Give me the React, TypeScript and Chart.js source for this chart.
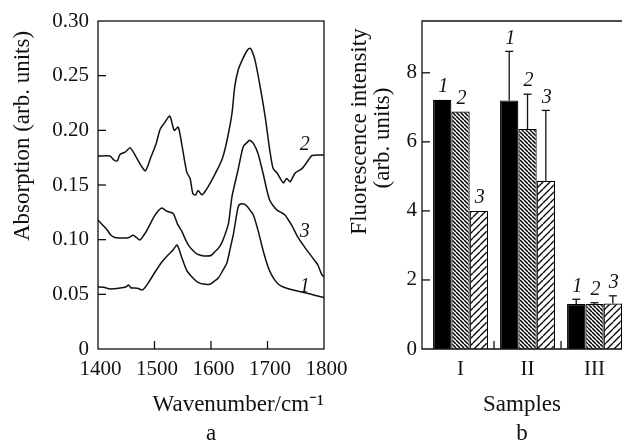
import React, { useEffect, useRef } from 'react';
import { Chart, registerables } from 'chart.js';

Chart.register(...registerables);

const FONT = '"Liberation Serif", "Times New Roman", serif';
const INK = '#111';

// ---------- Panel a: absorption spectra ----------
const wnTicks = [1400, 1500, 1600, 1700, 1800];
const absTicks = [0, 0.05, 0.1, 0.15, 0.2, 0.25, 0.3];

const curve1Wn = [1400, 1410, 1421, 1439, 1450, 1454, 1458, 1463, 1470, 1478, 1483, 1489, 1501, 1513, 1524, 1532, 1540, 1548, 1557, 1568, 1577, 1586, 1598, 1606, 1613, 1620, 1628, 1634, 1640, 1648, 1652, 1658, 1663, 1669, 1675, 1683, 1692, 1701, 1707, 1713, 1720, 1728, 1745, 1770, 1785, 1800];
const curve1Abs = [0.0567, 0.0565, 0.055, 0.0558, 0.057, 0.0585, 0.056, 0.0558, 0.0555, 0.054, 0.056, 0.0604, 0.0704, 0.0796, 0.086, 0.09, 0.0951, 0.084, 0.072, 0.065, 0.061, 0.0594, 0.0592, 0.062, 0.065, 0.071, 0.0786, 0.092, 0.106, 0.13, 0.1326, 0.1326, 0.131, 0.127, 0.1226, 0.109, 0.0906, 0.075, 0.068, 0.063, 0.059, 0.0567, 0.054, 0.051, 0.049, 0.047];

const curve2Wn = [1400, 1421, 1428, 1434, 1439, 1448, 1457, 1467, 1476, 1484, 1494, 1503, 1510, 1518, 1527, 1535, 1542, 1549, 1557, 1563, 1568, 1573, 1577, 1584, 1592, 1600, 1612, 1620, 1628, 1637, 1642, 1648, 1655, 1664, 1669, 1673, 1678, 1687, 1696, 1704, 1710, 1717, 1728, 1734, 1740, 1749, 1761, 1770, 1779, 1800];
const curve2Abs = [0.1765, 0.1765, 0.173, 0.172, 0.178, 0.18, 0.184, 0.176, 0.168, 0.163, 0.176, 0.188, 0.201, 0.207, 0.213, 0.2, 0.203, 0.185, 0.162, 0.156, 0.142, 0.141, 0.145, 0.141, 0.146, 0.153, 0.165, 0.174, 0.19, 0.215, 0.24, 0.255, 0.264, 0.273, 0.275, 0.272, 0.264, 0.24, 0.212, 0.182, 0.165, 0.161, 0.152, 0.156, 0.153, 0.161, 0.165, 0.171, 0.177, 0.1775];

const curve3Wn = [1400, 1409, 1416, 1423, 1430, 1445, 1455, 1462, 1468, 1474, 1481, 1487, 1498, 1506, 1513, 1522, 1533, 1541, 1548, 1555, 1560, 1568, 1575, 1583, 1592, 1600, 1607, 1613, 1619, 1625, 1631, 1637, 1643, 1648, 1657, 1664, 1668, 1675, 1683, 1692, 1699, 1704, 1710, 1717, 1724, 1731, 1737, 1743, 1754, 1766, 1779, 1789, 1796, 1800];
const curve3Abs = [0.118, 0.113, 0.109, 0.104, 0.102, 0.1015, 0.102, 0.104, 0.102, 0.0997, 0.104, 0.109, 0.12, 0.126, 0.129, 0.126, 0.124, 0.114, 0.108, 0.1, 0.095, 0.09, 0.087, 0.0855, 0.085, 0.0855, 0.089, 0.092, 0.097, 0.105, 0.115, 0.139, 0.153, 0.164, 0.185, 0.189, 0.191, 0.188, 0.179, 0.161, 0.145, 0.136, 0.131, 0.127, 0.125, 0.1226, 0.118, 0.113, 0.102, 0.093, 0.084, 0.077, 0.068, 0.066];

const curveNames = ['1', '2', '3'];
const curveLabelWn = [1766, 1766, 1766];
const curveLabelAbs = [0.0572, 0.1866, 0.1075];

// ---------- Panel b: fluorescence bars ----------
const samples = ['I', 'II', 'III'];
const seriesNames = ['1', '2', '3'];
const series1 = [7.22, 7.2, 1.3];
const series2 = [6.88, 6.37, 1.3];
const series3 = [4.0, 4.87, 1.32];
const err1 = [0, 1.42, 0.14];
const err2 = [0, 1.01, 0.04];
const err3 = [0, 2.04, 0.22];
const fluoTicks = [0, 2, 4, 6, 8];

const tickFont = { family: FONT, size: 21, weight: 'normal' as const };
const titleFont = { family: FONT, size: 23, weight: 'normal' as const };
const italicFont = `italic 20px ${FONT}`;

function makeHatch(period: number, dir: 1 | -1, lw: number): CanvasPattern | string {
  const c = document.createElement('canvas');
  c.width = period;
  c.height = period;
  const g = c.getContext('2d');
  if (!g) return '#888';
  g.fillStyle = '#fff';
  g.fillRect(0, 0, period, period);
  g.strokeStyle = '#000';
  g.lineWidth = lw;
  g.beginPath();
  for (let k = -1; k <= 1; k++) {
    if (dir === 1) {
      g.moveTo(k * period, period);
      g.lineTo(k * period + period, 0);
    } else {
      g.moveTo(k * period, 0);
      g.lineTo(k * period + period, period);
    }
  }
  g.stroke();
  return g.createPattern(c, 'repeat') || '#888';
}

function vText(ctx: CanvasRenderingContext2D, text: string, x: number, y: number) {
  ctx.save();
  ctx.translate(x, y);
  ctx.rotate(-Math.PI / 2);
  ctx.textAlign = 'center';
  ctx.textBaseline = 'middle';
  ctx.font = `normal 23px ${FONT}`;
  ctx.fillStyle = INK;
  ctx.fillText(text, 0, 0);
  ctx.restore();
}

function line(ctx: CanvasRenderingContext2D, x1: number, y1: number, x2: number, y2: number) {
  ctx.beginPath();
  ctx.moveTo(x1, y1);
  ctx.lineTo(x2, y2);
  ctx.stroke();
}

const TICK_LEN = 8;

const spectraDeco = {
  id: 'spectraDeco',
  afterDraw(chart: any) {
    const { ctx, chartArea: a, scales } = chart;
    const xs = scales.x;
    const ys = scales.y;
    ctx.save();
    ctx.strokeStyle = INK;
    ctx.lineWidth = 1.3;
    ctx.strokeRect(a.left, a.top, a.right - a.left, a.bottom - a.top);
    wnTicks.slice(1, -1).forEach((v) => {
      const px = xs.getPixelForValue(v);
      line(ctx, px, a.bottom, px, a.bottom - TICK_LEN);
    });
    absTicks.slice(1, -1).forEach((v) => {
      const py = ys.getPixelForValue(v);
      line(ctx, a.left, py, a.left + TICK_LEN, py);
    });
    ctx.font = italicFont;
    ctx.fillStyle = INK;
    ctx.textAlign = 'center';
    ctx.textBaseline = 'middle';
    curveNames.forEach((n, i) => {
      ctx.fillText(n, xs.getPixelForValue(curveLabelWn[i]), ys.getPixelForValue(curveLabelAbs[i]));
    });
    vText(ctx, 'Absorption (arb. units)', a.left - 75.5, a.top + 115);
    ctx.restore();
  },
};

const barDeco = {
  id: 'barDeco',
  afterDraw(chart: any) {
    const { ctx, chartArea: a, scales } = chart;
    const xs = scales.x;
    const ys = scales.y;
    ctx.save();
    ctx.strokeStyle = INK;
    ctx.lineWidth = 1.3;
    ctx.beginPath();
    ctx.moveTo(a.right + 2, a.top);
    ctx.lineTo(a.left, a.top);
    ctx.lineTo(a.left, a.bottom);
    ctx.lineTo(a.right + 2, a.bottom);
    ctx.stroke();
    fluoTicks.slice(1).forEach((v) => {
      const py = ys.getPixelForValue(v);
      line(ctx, a.left, py, a.left + TICK_LEN, py);
    });
    for (let i = 0; i < samples.length - 1; i++) {
      const px = xs.getPixelForValue(i + 1.5);
      line(ctx, px, a.bottom, px, a.bottom - TICK_LEN);
    }
    const vals = [series1, series2, series3];
    const errs = [err1, err2, err3];
    ctx.font = italicFont;
    ctx.fillStyle = INK;
    ctx.textAlign = 'center';
    ctx.textBaseline = 'middle';
    vals.forEach((vs, d) => {
      const meta = chart.getDatasetMeta(d);
      vs.forEach((v, i) => {
        const bar = meta.data[i];
        const x = bar.x;
        const yTop = ys.getPixelForValue(v + errs[d][i]);
        if (errs[d][i] > 0) {
          ctx.lineWidth = 1.3;
          line(ctx, x, ys.getPixelForValue(v), x, yTop);
          line(ctx, x - 4, yTop, x + 4, yTop);
        }
        ctx.fillText(seriesNames[d], x + 1, yTop - 13);
      });
    });
    vText(ctx, 'Fluorescence intensity', a.left - 62, a.top + 110.5);
    vText(ctx, '(arb. units)', a.left - 39.5, a.top + 117);
    ctx.restore();
  },
};

function spectraConfig(): any {
  const mk = (wn: number[], ab: number[]) => wn.map((w, i) => ({ x: w, y: ab[i] }));
  const ds = (label: string, wn: number[], ab: number[]) => ({
    label,
    data: mk(wn, ab),
    borderColor: INK,
    borderWidth: 1.5,
    pointRadius: 0,
    tension: 0.25,
    fill: false,
  });
  return {
    type: 'line',
    data: {
      datasets: [
        ds('1', curve1Wn, curve1Abs),
        ds('2', curve2Wn, curve2Abs),
        ds('3', curve3Wn, curve3Abs),
      ],
    },
    options: {
      animation: false,
      responsive: false,
      devicePixelRatio: 1,
      events: [],
      layout: { padding: { left: 0, top: 21, right: 26, bottom: 0 } },
      plugins: {
        legend: { display: false },
        tooltip: { enabled: false },
        title: {
          display: true,
          text: 'a',
          position: 'bottom',
          fullSize: false,
          color: INK,
          font: { ...titleFont, lineHeight: 1.1 },
          padding: 0,
        },
      },
      scales: {
        x: {
          type: 'linear',
          min: 1400,
          max: 1800,
          offset: false,
          grid: { display: false, drawTicks: false },
          border: { display: false },
          ticks: {
            color: INK,
            font: tickFont,
            padding: 7.4,
            labelOffset: 2.5,
            maxRotation: 0,
            autoSkip: false,
            callback: (v: any) => String(v),
          },
          afterBuildTicks: (s: any) => {
            s.ticks = wnTicks.map((v) => ({ value: v }));
          },
          title: {
            display: true,
            text: 'Wavenumber/cm⁻¹',
            align: 'end',
            color: INK,
            font: titleFont,
            padding: { top: 0, bottom: 3.4 },
          },
          afterFit: (s: any) => {
            s.height = 72.7;
            s.paddingLeft = 0;
            s.paddingRight = 0;
          },
        },
        y: {
          type: 'linear',
          min: 0,
          max: 0.3,
          grid: { display: false, drawTicks: false },
          border: { display: false },
          ticks: {
            color: INK,
            font: tickFont,
            padding: 9,
            callback: (v: any) => (Number(v) === 0 ? '0' : Number(v).toFixed(2)),
          },
          afterBuildTicks: (s: any) => {
            s.ticks = absTicks.map((v) => ({ value: v }));
          },
          afterFit: (s: any) => {
            s.width = 98;
            s.paddingTop = 0;
            s.paddingBottom = 0;
          },
        },
      },
    },
    plugins: [spectraDeco],
  };
}

function barConfig(): any {
  const fills = ['#000', makeHatch(4, -1, 1.5), makeHatch(7, 1, 1.3)];
  const sets = [series1, series2, series3];
  return {
    type: 'bar',
    data: {
      datasets: sets.map((vals, d) => ({
        label: seriesNames[d],
        data: samples.map((_, i) => ({ x: i + 1, y: vals[i] })),
        backgroundColor: fills[d],
        borderColor: '#000',
        borderWidth: 1.2,
        barPercentage: 1,
        categoryPercentage: 0.82,
      })),
    },
    options: {
      animation: false,
      responsive: false,
      devicePixelRatio: 1,
      events: [],
      layout: { padding: { left: 0, top: 21, right: 0, bottom: 0 } },
      plugins: {
        legend: { display: false },
        tooltip: { enabled: false },
        title: {
          display: true,
          text: 'b',
          position: 'bottom',
          fullSize: false,
          color: INK,
          font: { ...titleFont, lineHeight: 1.1 },
          padding: 0,
        },
      },
      scales: {
        x: {
          type: 'linear',
          min: 0.425,
          max: 3.41,
          offset: false,
          grid: { display: false, drawTicks: false, offset: false },
          border: { display: false },
          ticks: {
            color: INK,
            font: tickFont,
            padding: 7.4,
            maxRotation: 0,
            autoSkip: false,
            callback: (v: any) => samples[Math.round(Number(v)) - 1] ?? '',
          },
          afterBuildTicks: (s: any) => {
            s.ticks = samples.map((_, i) => ({ value: i + 1 }));
          },
          title: {
            display: true,
            text: 'Samples',
            color: INK,
            font: titleFont,
            padding: { top: 0, bottom: 3.4 },
          },
          afterFit: (s: any) => {
            s.height = 72.7;
            s.paddingLeft = 0;
            s.paddingRight = 0;
          },
        },
        y: {
          type: 'linear',
          min: 0,
          max: 9.5,
          grid: { display: false, drawTicks: false },
          border: { display: false },
          ticks: { color: INK, font: tickFont, padding: 5 },
          afterBuildTicks: (s: any) => {
            s.ticks = fluoTicks.map((v) => ({ value: v }));
          },
          afterFit: (s: any) => {
            s.width = 82;
            s.paddingTop = 0;
            s.paddingBottom = 0;
          },
        },
      },
    },
    plugins: [barDeco],
  };
}

export default function App() {
  const leftRef = useRef<HTMLCanvasElement>(null);
  const rightRef = useRef<HTMLCanvasElement>(null);

  useEffect(() => {
    if (!leftRef.current || !rightRef.current) return;
    const a = new Chart(leftRef.current, spectraConfig());
    const b = new Chart(rightRef.current, barConfig());
    return () => {
      a.destroy();
      b.destroy();
    };
  }, []);

  return (
    <div style={{ position: 'absolute', left: 0, top: 0, width: 622, height: 447, overflow: 'hidden', background: '#fff' }}>
      <canvas ref={leftRef} width={350} height={447} style={{ position: 'absolute', left: 0, top: 0, width: 350, height: 447 }} />
      <canvas ref={rightRef} width={282} height={447} style={{ position: 'absolute', left: 340, top: 0, width: 282, height: 447 }} />
    </div>
  );
}
